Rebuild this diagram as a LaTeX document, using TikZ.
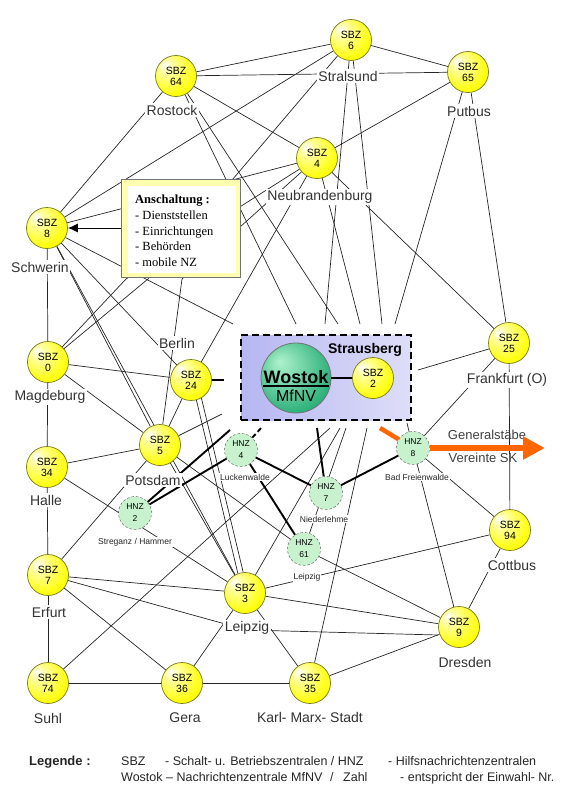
\documentclass[tikz,border=0pt]{standalone}
\usepackage{fontspec}
\setmainfont{Liberation Sans}
\newfontfamily\boxfont{Liberation Serif}
\usetikzlibrary{arrows.meta}
\pgfdeclarelayer{bg}
\pgfsetlayers{bg,main}
\definecolor{sbzedge}{RGB}{120,120,30}
\definecolor{hnzfill}{RGB}{200,242,205}
\definecolor{lav}{RGB}{182,182,242}
\definecolor{wgreen}{RGB}{28,168,112}
\definecolor{wlight}{RGB}{175,242,205}
\definecolor{arrorange}{RGB}{255,102,0}
\definecolor{boxyellow}{RGB}{255,255,175}
\colorlet{sbzhi}{yellow!35!white}
\colorlet{sbzrim}{yellow!94!black}
\colorlet{wrim}{wgreen!85!black}
\pgfdeclareradialshading{sbzshade}{\pgfpoint{-14bp}{14bp}}{color(0bp)=(white); color(8bp)=(sbzhi); color(30bp)=(yellow); color(50bp)=(sbzrim)}
\pgfdeclareradialshading{wostokshade}{\pgfpoint{-12bp}{12bp}}{color(0bp)=(wlight); color(34bp)=(wgreen); color(50bp)=(wrim)}

\begin{document}
\begin{tikzpicture}[x=1pt,y=-1pt]
	\tikzset{wire/.style={line width=0.7pt,black!85},
		trunk/.style={line width=1.9pt,black},
		sbz/.style={circle,minimum size=41pt,inner sep=0pt,draw=sbzedge,line width=0.7pt,shading=sbzshade,align=center,font=\fontsize{10.5}{11}\selectfont},
		hnz/.style={circle,minimum size=33pt,inner sep=0pt,draw=black!70,dash pattern=on 2.5pt off 2pt,fill=hnzfill,align=center,font=\fontsize{8.5}{12}\selectfont},
		city/.style={fill=white,inner sep=1.5pt,text=black!80,font=\fontsize{14}{16}\selectfont},
		hnzlabel/.style={fill=white,inner sep=1pt,text=black!85,font=\fontsize{8.5}{10}\selectfont},
		legend/.style={anchor=base west,inner sep=0pt,text=black!85,font=\fontsize{12.5}{14}\selectfont}};
	\useasboundingbox (0,0) rectangle (570,800);

	% Anschaltung
	\node[draw=black!55,fill=boxyellow,minimum width=119pt,minimum height=98pt,inner sep=0pt] (ansch) at (180.5,228) {};
	\fill[white] (128,186) rectangle (236,273);
	\node[anchor=north west,inner sep=0pt,align=left,font=\boxfont\fontsize{12.5}{15.7}\selectfont] (anschtext) at (135,195)
		{\textbf{Anschaltung :}\\- Dienststellen\\- Einrichtungen\\- Behörden\\- mobile NZ};

	% Strausberg
	\node[draw=black,line width=2.2pt,dash pattern=on 7pt off 4pt,left color=lav,right color=lav!45!white,minimum width=170pt,minimum height=85pt,inner sep=0pt] (sbg) at (326,377.5) {};
	\node[anchor=base,font=\bfseries\fontsize{14}{14}\selectfont] (lStrausberg) at (365,353) {Strausberg};

	% Ortsnamen
	\node[city] (lRostock) at (172,110) {Rostock};
	\node[city] (lStralsund) at (348,76) {Stralsund};
	\node[city] (lPutbus) at (469,111) {Putbus};
	\node[city] (lNeubr) at (320,197) {Neubrandenburg};
	\node[city] (lSchwerin) at (40,267) {Schwerin};
	\node[city] (lMagdeburg) at (50,397) {Magdeburg};
	\node[city] (lBerlin) at (177,343) {Berlin};
	\node[city] (lPotsdam) at (153,480) {Potsdam};
	\node[city] (lHalle) at (46,500) {Halle};
	\node[city] (lFrankfurt) at (507,380) {Frankfurt (O)};
	\node[city] (lCottbus) at (512,565) {Cottbus};
	\node[city] (lErfurt) at (49,612) {Erfurt};
	\node[city] (lLeipzig) at (247,628) {Leipzig};
	\node[city] (lDresden) at (465,662) {Dresden};
	\node[city] (lSuhl) at (48,718) {Suhl};
	\node[city] (lGera) at (185,718) {Gera};
	\node[city] (lKMS) at (310,717) {Karl- Marx- Stadt};
	\node[hnzlabel] (lStreganz) at (135,542) {Streganz / Hammer};
	\node[hnzlabel] (lLuckenwalde) at (245,477) {Luckenwalde};
	\node[hnzlabel] (lNiederlehme) at (324,519) {Niederlehme};
	\node[hnzlabel] (lLeipzigH) at (307,577) {Leipzig};
	\node[hnzlabel] (lFreienwalde) at (417,477) {Bad Freienwalde};
	\node[text=black!75,font=\fontsize{13}{13}\selectfont] (lGeneral) at (487,435) {Generalstäbe};
	\node[text=black!75,font=\fontsize{13}{13}\selectfont] (lVereinte) at (483,458) {Vereinte SK};

	% SBZ
	\node[sbz] (s6) at (351,40) {SBZ\\6};
	\node[sbz] (s64) at (176,76) {SBZ\\64};
	\node[sbz] (s65) at (468,72) {SBZ\\65};
	\node[sbz] (s4) at (317,158) {SBZ\\4};
	\node[sbz] (s8) at (47,228) {SBZ\\8};
	\node[sbz] (s0) at (48,362) {SBZ\\0};
	\node[sbz] (s24) at (191,380) {SBZ\\24};
	\node[sbz] (s2) at (373,378) {SBZ\\2};
	\node[sbz] (s25) at (509,343) {SBZ\\25};
	\node[sbz] (s5) at (160,445) {SBZ\\5};
	\node[sbz] (s34) at (47,467) {SBZ\\34};
	\node[sbz] (s94) at (510,530) {SBZ\\94};
	\node[sbz] (s7) at (48,575) {SBZ\\7};
	\node[sbz] (s3) at (245,593) {SBZ\\3};
	\node[sbz] (s9) at (459,627) {SBZ\\9};
	\node[sbz] (s74) at (48,683) {SBZ\\74};
	\node[sbz] (s36) at (182,683) {SBZ\\36};
	\node[sbz] (s35) at (310,683) {SBZ\\35};

	% HNZ
	\node[hnz] (h2) at (135,513) {HNZ\\2};
	\node[hnz] (h4) at (241,450) {HNZ\\4};
	\node[hnz] (h7) at (326,493) {HNZ\\7};
	\node[hnz] (h61) at (304,549) {HNZ\\61};
	\node[hnz] (h8) at (413,448) {HNZ\\8};

	% Wostok
	\node[circle,minimum size=70pt,inner sep=0pt,shading=wostokshade,draw=black!55,line width=0.8pt] (wostok) at (296,378) {};
	\node[anchor=base,inner sep=0pt,font=\bfseries\fontsize{18}{18}\selectfont] (wname) at (296,383) {Wostok};
	\draw[line width=1.5pt] ([yshift=-3pt]wname.base west) -- ([yshift=-3pt]wname.base east);
	\node[anchor=base,inner sep=0pt,font=\fontsize{16}{16}\selectfont] (wsub) at (296,401) {MfNV};
	\draw[trunk] (wostok) -- (s2);
	\draw[trunk] (s24.east) -- ++(12,0);

	\begin{pgfonlayer}{bg}
		% Norden
		\draw[wire] (s64) -- (s6);
		\draw[wire] (s6) -- (s65);
		\draw[wire] (s64) -- (s65);
		\draw[wire] (s6) -- (s8);
		\draw[wire] (s64) -- (s8);
		\draw[wire] (s64) -- (s4);
		\draw[wire] (s65) -- (s4);
		\draw[wire] (s8) -- (s4);
		\draw[wire] (s6) -- (148,279) -- (s0);
		\draw[wire] (s4) -- (126,279) -- (s0);
		\draw[wire] (s4) -- (182,279) -- (s5);
		\draw[wire] (s4) -- (s24);
		\draw[wire] (s4) -- (s25);
		% nach Strausberg
		\draw[wire] (s8) -- (233,324);
		\draw[wire] (s64) -- (296,324);
		\draw[wire] (s6) -- (325,324);
		\draw[wire] (s64) -- (338,324);
		\draw[wire] (s4) -- (360,324);
		\draw[wire] (s6) -- (382,324);
		\draw[wire] (s65) -- (395,324);
		\draw[wire] (s25) -- (418,370);
		\draw[wire] (s5) -- (222,414);
		\draw[wire] (s74) -- (330,428);
		\draw[wire] (s3) -- (340,428);
		\draw[wire] (h61) -- (346,428);
		\draw[wire] (s35) -- (367,428);
		\draw[wire] (h8) -- (407,423);
		% Osten
		\draw[wire] (s65) -- (s25);
		\draw[wire] (s25) -- (s94);
		\draw[wire] (s25) -- (h8);
		\draw[wire] (h8) -- (s94);
		\draw[wire] (h8) -- (s9);
		\draw[wire] (s94) -- (s9);
		% Westen
		\draw[wire] (s8) -- (s0);
		\draw[wire] (s8) -- (s5);
		\draw[wire] (s8) -- (s24);
		\draw[wire] (s8) -- (s3);
		\draw[wire] (s0) -- (s24);
		\draw[wire] (s0) -- (s34);
		\draw[wire] (s0) -- (s5);
		\draw[wire] (s34) -- (s5);
		\draw[wire] (s34) -- (s7);
		\draw[wire] (s34) -- (s3);
		\draw[wire] (s24) -- (s5);
		\draw[wire] (s24.-75) -- (s3.110);
		\draw[wire] (s24.-60) -- (s3.95);
		\draw[wire] (s5) -- (s3);
		\draw[wire] (s5) -- (h61) -- (s9);
		% Sueden
		\draw[wire] (s7) -- (s74);
		\draw[wire] (s7) -- (s5);
		\draw[wire] (s7) -- (s3);
		\draw[wire] (s7) -- (247,630) -- ([yshift=-8pt]s9.west);
		\draw[wire] (s7) -- (s36);
		\draw[wire] (s74) -- (s36);
		\draw[wire] (s36) -- (s35);
		\draw[wire] (s36) -- (s3);
		\draw[wire] (s3) -- (s35);
		\draw[wire] (s3) -- (s9);
		\draw[wire] (s3) -- (s94);
		\draw[wire] (s35) -- (s9);
		% HNZ-Verbindungen
		\draw[trunk] (h2) -- (230,430);
		\draw[trunk] (h2) -- (h4);
		\draw[trunk,dash pattern=on 5pt off 3pt] (h4) -- (262,427);
		\draw[trunk] (h4) -- (h7);
		\draw[trunk] (h4) -- (h61);
		\draw[trunk] (h7) -- (317,428);
		\draw[trunk] (h7) -- (h8);
	\end{pgfonlayer}

	\draw[-{Latex[length=10pt,width=9pt]},line width=1pt] (ansch.west) -- (s8);
	\draw[line width=4.5pt,arrorange] (380,428) -- (h8);
	\draw[line width=6pt,arrorange,-{Triangle[length=22pt,width=22pt]}] (h8.east) -- (545,448);

	% Legende
	\node[legend,font=\bfseries\fontsize{13}{14}\selectfont] (legtitle) at (29,765) {Legende :};
	\node[legend] (leg1a) at (121,765) {SBZ};
	\node[legend] (leg1b) at (165,765) {- Schalt- u. Betriebszentralen / HNZ};
	\node[legend] (leg1c) at (388,765) {- Hilfsnachrichtenzentralen};
	\node[legend] (leg2a) at (121,781) {Wostok – Nachrichtenzentrale MfNV};
	\node[legend] (leg2b) at (330,781) {/};
	\node[legend] (leg2c) at (343,781) {Zahl};
	\node[legend] (leg2d) at (400,781) {- entspricht der Einwahl- Nr.};
\end{tikzpicture}
\end{document}
